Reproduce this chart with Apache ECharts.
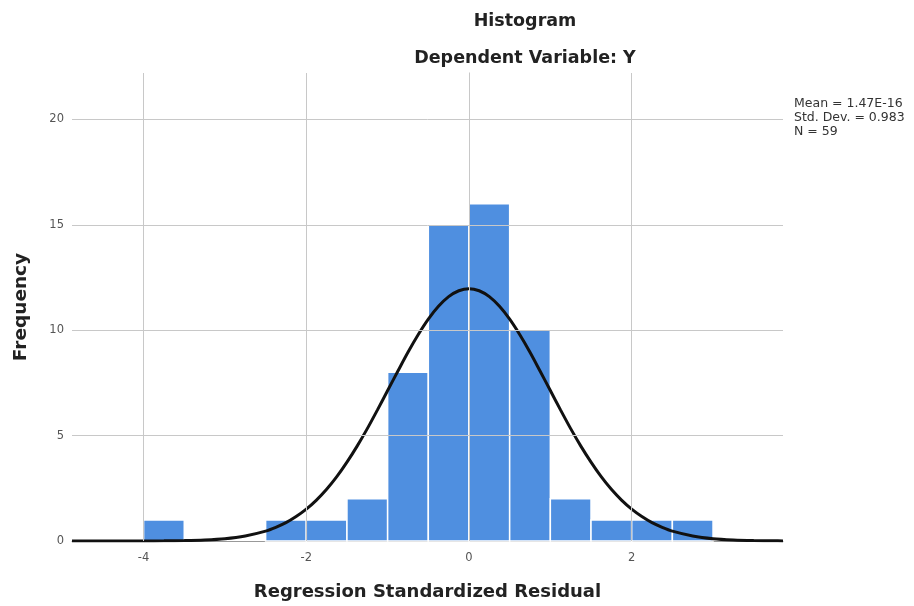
<!DOCTYPE html>
<html>
<head>
<meta charset="utf-8">
<script src="https://cdn.jsdelivr.net/npm/echarts@6/dist/echarts.min.js"></script>
<style>html,body{margin:0;padding:0;background:#fff}#c{width:914px;height:606px}</style>
</head>
<body>
<div id="c"></div>
<script>
// Histogram bins (start of each 0.5-wide bin) and frequencies
const binStarts = [-4, -3.5, -3, -2.5, -2, -1.5, -1, -0.5, 0, 0.5, 1, 1.5, 2, 2.5];
const binWidth = 0.5;
const counts    = [1, 0, 0, 1, 1, 2, 8, 15, 16, 10, 2, 1, 1, 1];
// Normal curve
const curveX = [-4.88, -4.5, -4.25, -4, -3.75, -3.5, -3.25, -3, -2.75, -2.5, -2.375, -2.25, -2.125, -2, -1.875, -1.75, -1.625, -1.5, -1.375, -1.25, -1.125, -1, -0.875, -0.75, -0.625, -0.5, -0.375, -0.25, -0.125, 0, 0.125, 0.25, 0.375, 0.5, 0.625, 0.75, 0.875, 1, 1.125, 1.25, 1.375, 1.5, 1.625, 1.75, 1.875, 2, 2.125, 2.25, 2.375, 2.5, 2.75, 3, 3.25, 3.5, 3.75, 3.86];
const curveY = [0, 0, 0.001, 0.003, 0.008, 0.021, 0.05, 0.11, 0.24, 0.47, 0.65, 0.87, 1.16, 1.51, 1.94, 2.45, 3.05, 3.74, 4.50, 5.33, 6.22, 7.14, 8.05, 8.95, 9.78, 10.52, 11.13, 11.59, 11.87, 11.97, 11.87, 11.59, 11.13, 10.52, 9.78, 8.95, 8.05, 7.14, 6.22, 5.33, 4.50, 3.74, 3.05, 2.45, 1.94, 1.51, 1.16, 0.87, 0.65, 0.47, 0.24, 0.11, 0.05, 0.021, 0.008, 0.005];
const xTicks = [-4, -2, 0, 2];
const yTicks = [0, 5, 10, 15, 20];
const statsLines = ['Mean = 1.47E-16', 'Std. Dev. = 0.983', 'N = 59'];

const chart = echarts.init(document.getElementById('c'));
const barData = binStarts.map((s, i) => [s, s + binWidth, counts[i]]).filter(d => d[2] > 0);
const curveData = curveX.map((x, i) => [x, curveY[i]]);

chart.setOption({
  animation: false,
  backgroundColor: '#fff',
  title: [
    { text: 'Histogram', left: 520, top: 7, textAlign: 'center',
      textStyle: { fontFamily: 'DejaVu Sans', fontSize: 17.5, fontWeight: 'bold', color: '#222' } },
    { text: 'Dependent Variable: Y', left: 520, top: 44, textAlign: 'center',
      textStyle: { fontFamily: 'DejaVu Sans', fontSize: 17.5, fontWeight: 'bold', color: '#222' } }
  ],
  graphic: statsLines.map((t, i) => ({
    type: 'text', left: 794, top: 97 + i * 14,
    style: { text: t, fontFamily: 'DejaVu Sans', fontSize: 12.5, fill: '#333' }
  })),
  grid: { left: 72, right: 131, top: 73, bottom: 65 },
  xAxis: {
    type: 'value', min: -4.88, max: 3.86,
    name: 'Regression Standardized Residual', nameLocation: 'middle', nameGap: 42,
    nameTextStyle: { fontFamily: 'DejaVu Sans', fontSize: 18, fontWeight: 'bold', color: '#222' },
    axisLine: { show: true, onZero: false, lineStyle: { color: '#999', width: 1 } },
    axisTick: { show: false },
    axisLabel: { customValues: xTicks, color: '#555', fontSize: 11.5, fontFamily: 'DejaVu Sans', margin: 11 },
    splitLine: { show: false }
  },
  yAxis: {
    type: 'value', min: 0, max: 22.2,
    name: 'Frequency', nameLocation: 'middle', nameGap: 41, nameRotate: 90,
    nameTextStyle: { fontFamily: 'DejaVu Sans', fontSize: 18.5, fontWeight: 'bold', color: '#222' },
    axisLine: { show: true, lineStyle: { color: '#bbb', width: 1 } },
    axisTick: { show: false },
    axisLabel: { customValues: yTicks, color: '#555', fontSize: 11.5, fontFamily: 'DejaVu Sans', margin: 8 },
    splitLine: { show: false }
  },
  series: [
    {
      type: 'line', data: [], z: 1, silent: true,
      markLine: {
        silent: true, symbol: 'none', label: { show: false },
        lineStyle: { color: '#c8c8c8', width: 1, type: 'solid' },
        data: xTicks.map(v => ({ xAxis: v })).concat(yTicks.filter(v => v > 0).map(v => ({ yAxis: v })))
      }
    },
    {
      type: 'custom', z: 2, data: barData,
      encode: { x: [0, 1], y: 2 },
      renderItem: function (params, api) {
        const p0 = api.coord([api.value(0), api.value(2)]);
        const p1 = api.coord([api.value(1), 0]);
        return {
          type: 'rect',
          shape: { x: p0[0], y: p0[1], width: p1[0] - p0[0], height: p1[1] - p0[1] },
          style: { fill: '#4f8fe0', stroke: '#ffffff', lineWidth: 1.5 }
        };
      }
    },
    {
      type: 'line', z: 3, data: curveData, smooth: 0.3, symbol: 'none',
      lineStyle: { color: '#111', width: 3 }
    }
  ]
});
</script>
</body>
</html>
